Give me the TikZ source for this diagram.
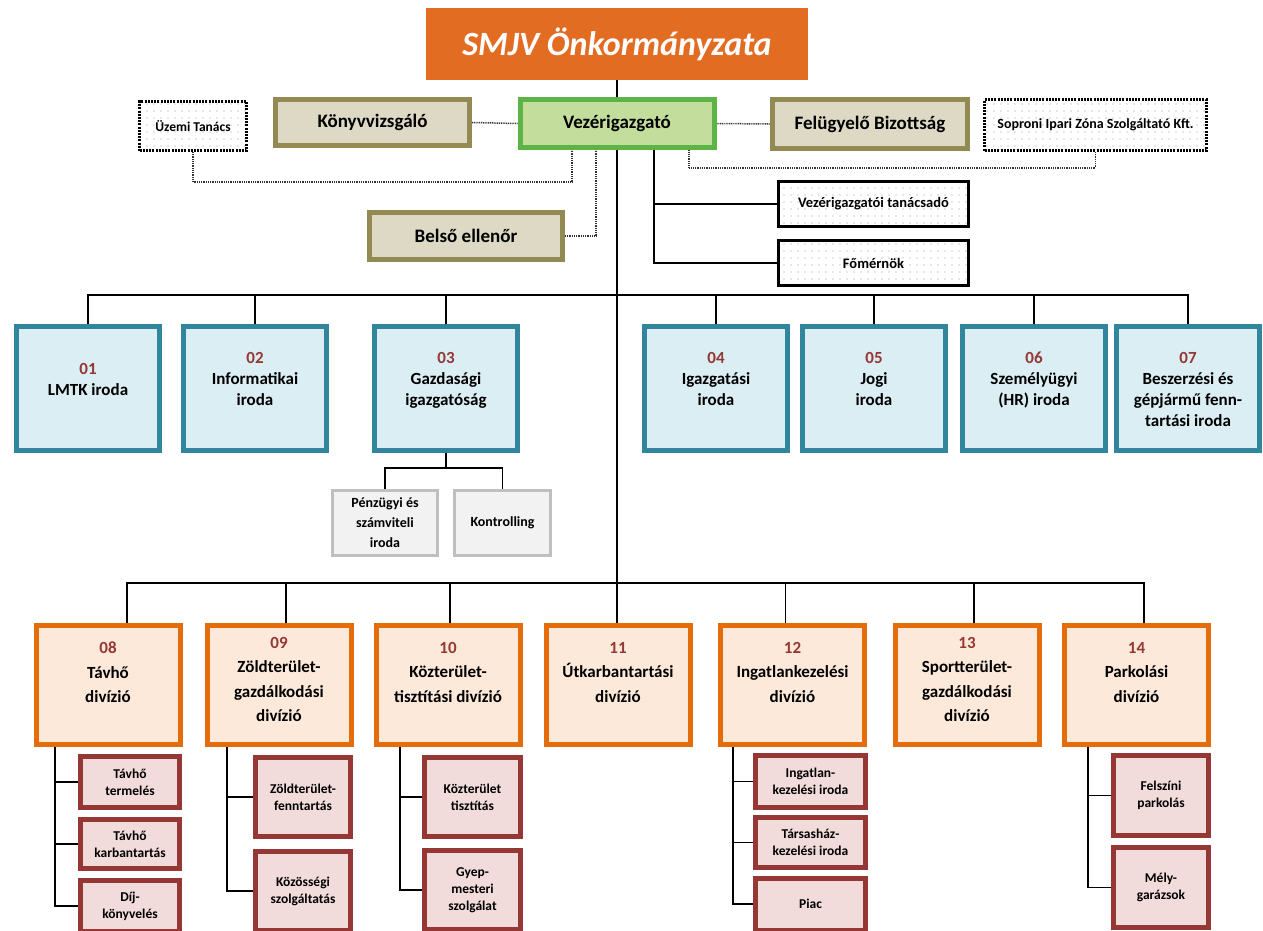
\documentclass[tikz,border=0pt]{standalone}
\usepackage{fontspec}
\setmainfont{Carlito}
\usepackage{xcolor}
\usetikzlibrary{positioning,patterns.meta}

\definecolor{smjvorange}{HTML}{E36C23}
\definecolor{ceogreen}{HTML}{5CB346}
\definecolor{ceofill}{HTML}{C3DE9C}
\definecolor{olivebrd}{HTML}{938953}
\definecolor{olivefill}{HTML}{DDD9C4}
\definecolor{tealbrd}{HTML}{31859C}
\definecolor{tealfill}{HTML}{DBEEF4}
\definecolor{divbrd}{HTML}{E46C0A}
\definecolor{divfill}{HTML}{FDE9D9}
\definecolor{subbrd}{HTML}{953735}
\definecolor{subfill}{HTML}{F2DCDB}
\definecolor{finbrd}{HTML}{BFBFBF}
\definecolor{finfill}{HTML}{F2F2F2}
\definecolor{numred}{HTML}{953735}

\newcommand\setfs[2]{\fontsize{#1}{#2}\selectfont}
\newcommand\unum[1]{\textcolor{numred}{#1}}

\pgfdeclarelayer{background}
\pgfsetlayers{background,main}

\begin{document}
\begin{tikzpicture}[x=1pt,y=-1pt,
    smjvbox/.style={fill=smjvorange, text=white, minimum width=382pt, minimum height=72pt, font=\setfs{34}{38}\bfseries\itshape},
    ceobox/.style={draw=ceogreen, fill=ceofill, line width=5pt, minimum width=194pt, minimum height=48pt, font=\setfs{19}{22}\bfseries},
    ctrlbox/.style={draw=olivebrd, fill=olivefill, line width=5pt, minimum height=46pt, font=\setfs{19}{22}\bfseries},
    dotbox/.style={draw=black, line width=3pt, dash pattern=on 2pt off 1.2pt, pattern={Dots[distance=7pt,radius=0.6pt]}, pattern color=black!40, font=\setfs{13.5}{16}\bfseries},
    advbox/.style={draw=black, line width=3pt, pattern={Dots[distance=7pt,radius=0.6pt]}, pattern color=black!40, minimum width=190pt, minimum height=45pt, font=\setfs{14.5}{17}\bfseries},
    unitbox/.style={draw=tealbrd, fill=tealfill, line width=5pt, minimum width=143pt, minimum height=124pt},
    unittxt/.style={anchor=north, align=center, inner sep=0pt, font=\setfs{17}{21}\bfseries},
    finbox/.style={draw=finbrd, fill=finfill, line width=3pt, minimum height=65pt, align=center, font=\setfs{14}{20}\bfseries},
    divbox/.style={draw=divbrd, fill=divfill, line width=5pt, minimum width=144pt, minimum height=119pt},
    divtxt/.style={anchor=north, align=center, inner sep=0pt, font=\setfs{17}{24.5}\bfseries},
    subbox/.style={draw=subbrd, fill=subfill, line width=5pt, align=center, font=\setfs{13.5}{17}\bfseries},
    link/.style={draw=black, line width=1.4pt},
    dlink/.style={draw=black!80, line width=1.5pt, dash pattern=on 1pt off 0.8pt}]
\useasboundingbox (0,0) rectangle (1263,930);
\clip (0,0) rectangle (1263,930);

% leadership
\node[smjvbox] (smjv) at (617,44) {SMJV Önkormányzata};
\node[ceobox] (ceo) at (617,123.5) {Vezérigazgató};
\node[ctrlbox, minimum width=194pt] (konyv) at (372.5,122.5) {Könyvvizsgáló};
\node[ctrlbox, minimum width=195pt, minimum height=49pt] (felugy) at (870,124) {Felügyelő Bizottság};
\node[dotbox, minimum width=107pt, minimum height=49pt] (uzemi) at (193,126) {Üzemi Tanács};
\node[dotbox, minimum width=222pt, minimum height=51pt, font=\setfs{14}{16}\bfseries] (sopron) at (1095.5,125) {Soproni Ipari Zóna Szolgáltató Kft.};
\node[ctrlbox, minimum width=193pt, minimum height=47pt] (belso) at (466,236) {Belső ellenőr};
\node[advbox] (tanacs) at (873.5,204) {Vezérigazgatói tanácsadó};
\node[advbox] (fomern) at (873.5,263) {Főmérnök};

% offices
\node[unitbox] (b01) at (88,388.5) {};
\node[unitbox] (b02) at (255,388.5) {};
\node[unitbox] (b03) at (446,388.5) {};
\node[unitbox] (b04) at (716,388.5) {};
\node[unitbox] (b05) at (874,388.5) {};
\node[unitbox] (b06) at (1034,388.5) {};
\node[unitbox] (b07) at (1188,388.5) {};
\node[unittxt] (t01) at (88,363) {\unum{01}\\LMTK iroda};
\node[unittxt] (t02) at (255,352) {\unum{02}\\Informatikai\\iroda};
\node[unittxt] (t03) at (446,352) {\unum{03}\\Gazdasági\\igazgatóság};
\node[unittxt] (t04) at (716,352) {\unum{04}\\Igazgatási\\iroda};
\node[unittxt] (t05) at (874,352) {\unum{05}\\Jogi\\iroda};
\node[unittxt] (t06) at (1034,352) {\unum{06}\\Személyügyi\\(HR) iroda};
\node[unittxt] (t07) at (1188,352) {\unum{07}\\Beszerzési és\\gépjármű fenn-\\tartási iroda};
\node[finbox, minimum width=105pt] (penz) at (385,523) {Pénzügyi és\\számviteli\\iroda};
\node[finbox, minimum width=96pt] (kontr) at (502.5,523) {Kontrolling};

% divisions
\node[divbox] (b08) at (108,685) {};
\node[divbox] (b09) at (279,685) {};
\node[divbox] (b10) at (448,685) {};
\node[divbox] (b11) at (618,685) {};
\node[divbox] (b12) at (792.5,685) {};
\node[divbox] (b13) at (967,685) {};
\node[divbox] (b14) at (1136.5,685) {};
\node[divtxt] (t08) at (108,642) {\unum{08}\\Távhő\\divízió};
\node[divtxt] (t09) at (279,637) {\unum{09}\\Zöldterület-\\gazdálkodási\\divízió};
\node[divtxt] (t10) at (448,642) {\unum{10}\\Közterület-\\tisztítási divízió};
\node[divtxt] (t11) at (618,642) {\unum{11}\\Útkarbantartási\\divízió};
\node[divtxt] (t12) at (792.5,642) {\unum{12}\\Ingatlankezelési\\divízió};
\node[divtxt] (t13) at (967,637) {\unum{13}\\Sportterület-\\gazdálkodási\\divízió};
\node[divtxt] (t14) at (1136.5,642) {\unum{14}\\Parkolási\\divízió};

% sub-units
\node[subbox, minimum width=99pt, minimum height=51pt] (s08a) at (130,782) {Távhő\\termelés};
\node[subbox, minimum width=99pt, minimum height=49pt] (s08b) at (130,844) {Távhő\\karbantartás};
\node[subbox, minimum width=99pt, minimum height=51pt] (s08c) at (130,906) {Díj-\\könyvelés};
\node[subbox, minimum width=95pt, minimum height=79pt] (s09a) at (303,797) {Zöldterület-\\fenntartás};
\node[subbox, minimum width=95pt, minimum height=79pt] (s09b) at (303,891) {Közösségi\\szolgáltatás};
\node[subbox, minimum width=96pt, minimum height=79pt] (s10a) at (472.5,797) {Közterület\\tisztítás};
\node[subbox, minimum width=96pt, minimum height=79pt] (s10b) at (472.5,890) {Gyep-\\mesteri\\szolgálat};
\node[subbox, minimum width=110pt, minimum height=52pt] (s12a) at (810.5,781.5) {Ingatlan-\\kezelési iroda};
\node[subbox, minimum width=110pt, minimum height=50pt] (s12b) at (810.5,842.5) {Társasház-\\kezelési iroda};
\node[subbox, minimum width=110pt, minimum height=52pt] (s12c) at (810.5,904) {Piac};
\node[subbox, minimum width=95pt, minimum height=80pt] (s14a) at (1161,795.5) {Felszíni\\parkolás};
\node[subbox, minimum width=95pt, minimum height=80pt] (s14b) at (1161,887.5) {Mély-\\garázsok};

\begin{pgfonlayer}{background}
% solid lines
\draw[link] (smjv.south) -- (ceo.north);
\draw[link] (ceo.south) -- (ceo.south |- b11.north);
\coordinate (bar1) at (617,295);
\draw[link] (b01.north) |- (bar1) -| (b07.north);
\foreach \b in {b02,b03,b04,b05,b06}
  \draw[link] (\b.north) -- (\b.north |- bar1);
\draw[link] (b03.south) -- ++(0,15) coordinate (k03);
\draw[link] (penz.north) |- (k03) -| (kontr.north);
\coordinate (bar2) at (617,583);
\draw[link] ([xshift=19pt]b08.north) |- (bar2) -| ([xshift=7.5pt]b14.north);
\foreach \b/\s in {b09/7,b10/2,b12/-7,b13/7}
  \draw[link] ([xshift=\s pt]\b.north) -- ([xshift=\s pt]\b.north |- bar2);
\draw[link] ([xshift=37pt]ceo.south) coordinate (kv) |- (fomern.west);
\draw[link] (tanacs.west) -- (tanacs.west -| kv);
% sub-unit spines
\coordinate (k08) at ([xshift=-53pt]b08.south);
\draw[link] (k08) |- (s08c.west);
\draw[link] (k08 |- s08a.west) -- (s08a.west);
\draw[link] (k08 |- s08b.west) -- (s08b.west);
\coordinate (k09) at ([xshift=-52pt]b09.south);
\draw[link] (k09) |- (s09b.west);
\draw[link] (k09 |- s09a.west) -- (s09a.west);
\coordinate (k10) at ([xshift=-48pt]b10.south);
\draw[link] (k10) |- (s10b.west);
\draw[link] (k10 |- s10a.west) -- (s10a.west);
\coordinate (k12) at ([xshift=-59.5pt]b12.south);
\draw[link] (k12) |- (s12c.west);
\draw[link] (k12 |- s12a.west) -- (s12a.west);
\draw[link] (k12 |- s12b.west) -- (s12b.west);
\coordinate (k14) at ([xshift=-48.5pt]b14.south);
\draw[link] (k14) |- (s14b.west);
\draw[link] (k14 |- s14a.west) -- (s14a.west);
% dotted lines
\draw[dlink] (konyv.east) -- (ceo.west);
\draw[dlink] (ceo.east) -- (felugy.west);
\draw[dlink] (uzemi.south) -- ++(0,30) -| ([xshift=-45pt]ceo.south);
\draw[dlink] (belso.east) -| ([xshift=-21pt]ceo.south);
\draw[dlink] (sopron.south) -- ++(0,16) -| ([xshift=72pt]ceo.south);
\end{pgfonlayer}
\end{tikzpicture}
\end{document}
